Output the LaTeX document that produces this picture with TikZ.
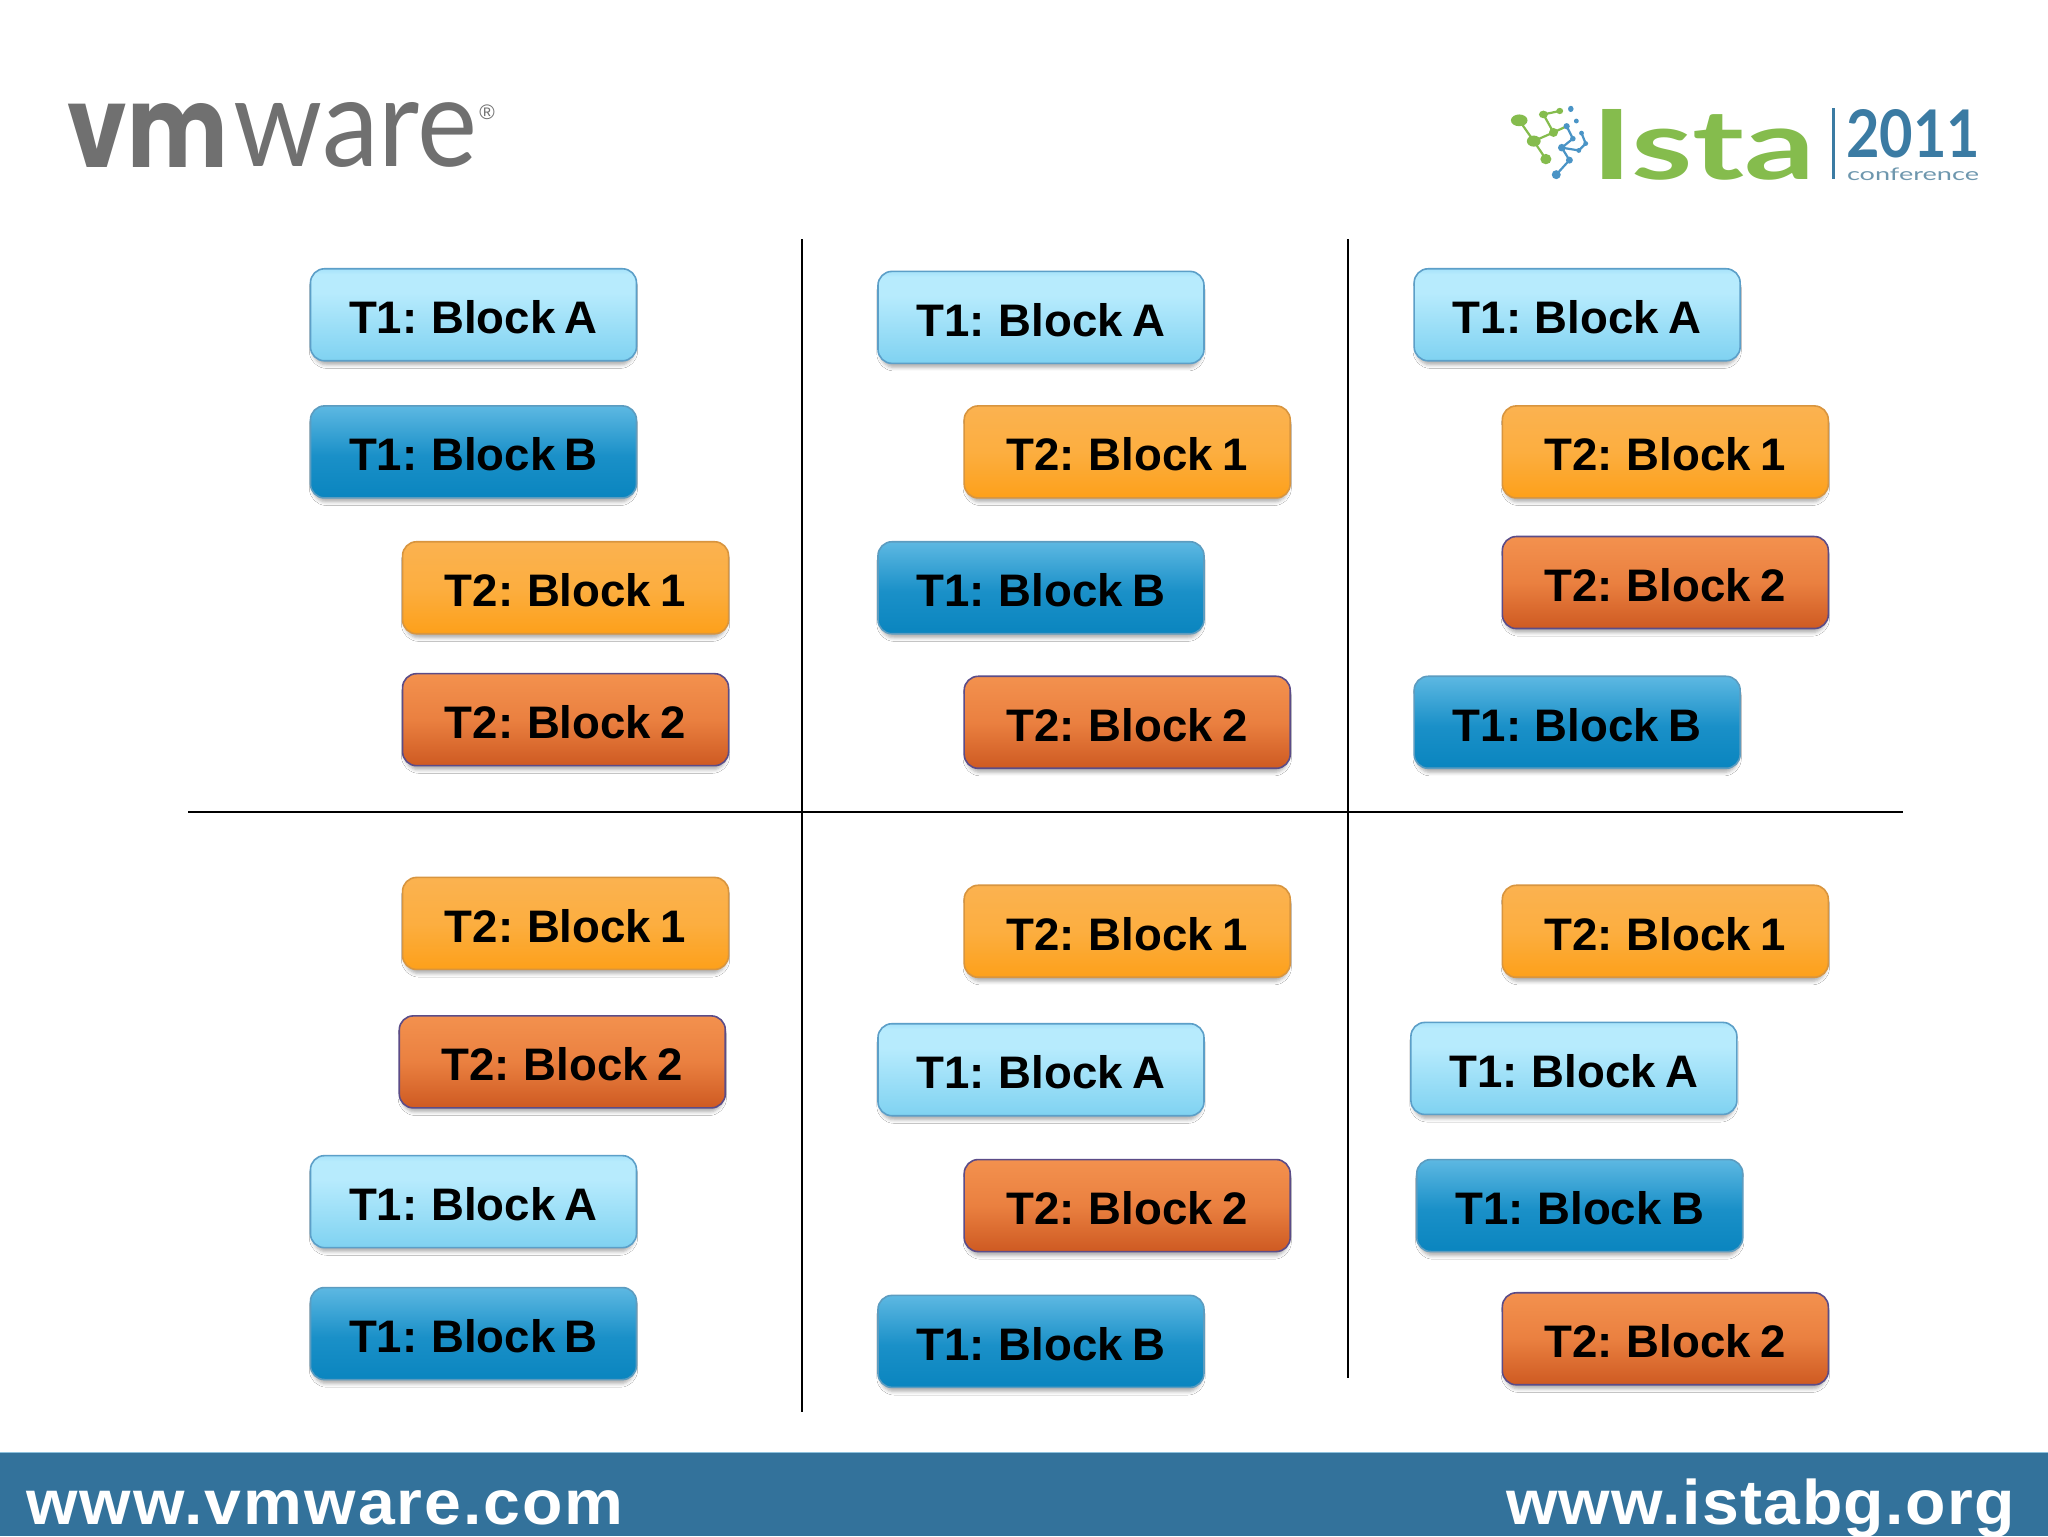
\documentclass[tikz,border=0pt]{standalone}
\usepackage{fontspec}
\setmainfont[WordSpace=0.75]{Liberation Sans}
\newfontfamily\popfont{Poppins}
\newfontfamily\latofont{Lato}
\newfontfamily\footfont[LetterSpace=3.2,FakeStretch=1.05]{Liberation Sans}
\newfontfamily\footfontR[LetterSpace=2.3,FakeStretch=1.05]{Liberation Sans}
\usetikzlibrary{shadows.blur}
\definecolor{aTop}{HTML}{A6E2FA}\definecolor{aHi}{HTML}{B7EBFD}\definecolor{aBot}{HTML}{7FD2F1}\definecolor{aLine}{HTML}{5C9FC8}
\definecolor{bTop}{HTML}{5DB8E2}\definecolor{bMid}{HTML}{1A90C8}\definecolor{bBot}{HTML}{0A85BF}\definecolor{bLine}{HTML}{5C9CC0}
\definecolor{oTop}{HTML}{FBB250}\definecolor{oMid}{HTML}{FCAE40}\definecolor{oBot}{HTML}{FDA01A}\definecolor{oLine}{HTML}{D8953F}
\definecolor{rTop}{HTML}{F3914E}\definecolor{rMid}{HTML}{EA8040}\definecolor{rBot}{HTML}{CE5A22}\definecolor{rLine}{HTML}{5B4C88}
\definecolor{footblue}{HTML}{33729B}\definecolor{footline}{HTML}{8CC0DC}
\definecolor{vmgray}{HTML}{707070}\definecolor{istagreen}{HTML}{85BC4D}\definecolor{istablue}{HTML}{3B7BA3}\definecolor{confgray}{HTML}{6E97AE}
\definecolor{molblue}{HTML}{4A94C6}
\pgfdeclareverticalshading{shA}{100bp}{color(0bp)=(aBot);color(25bp)=(aBot);color(62bp)=(aHi);color(72bp)=(aHi);color(75bp)=(aTop);color(100bp)=(aTop)}
\pgfdeclareverticalshading{shB}{100bp}{color(0bp)=(bBot);color(25bp)=(bBot);color(48bp)=(bMid);color(75bp)=(bTop);color(100bp)=(bTop)}
\pgfdeclareverticalshading{shO}{100bp}{color(0bp)=(oBot);color(25bp)=(oBot);color(50bp)=(oMid);color(75bp)=(oTop);color(100bp)=(oTop)}
\pgfdeclareverticalshading{shR}{100bp}{color(0bp)=(rBot);color(25bp)=(rBot);color(50bp)=(rMid);color(75bp)=(rTop);color(100bp)=(rTop)}
\tikzset{
  blockbase/.style={rounded corners=7pt,minimum width=163pt,minimum height=46pt,inner sep=0pt,line width=.8pt,
    font=\fontsize{22.8}{26}\selectfont\bfseries,text=black,text height=18.8pt,text depth=0pt,
    blur shadow={shadow xshift=0pt,shadow yshift=-2.4pt,shadow blur radius=1.8pt,shadow scale=.985,shadow opacity=32}},
  blockA/.style={blockbase,draw=aLine,shading=shA},
  blockB/.style={blockbase,draw=bLine,shading=shB},
  blockO/.style={blockbase,draw=oLine,shading=shO},
  blockR/.style={blockbase,draw=rLine,shading=shR},
  rule/.style={draw=black,line width=.85pt},
  foot/.style={text=white,inner sep=0pt,font=\footfont\fontsize{31.5}{36}\selectfont\bfseries},
  footr/.style={text=white,inner sep=0pt,font=\footfontR\fontsize{31.5}{36}\selectfont\bfseries},
  logotext/.style={inner sep=0pt,outer sep=0pt},
  molg/.style={fill=istagreen},
  molb/.style={fill=molblue},
}
\begin{document}
\begin{tikzpicture}[x=0.65306pt,y=-0.65306pt]
\useasboundingbox (0,0) rectangle (1568,1176);
\fill[white] (0,0) rectangle (1568,1176);
% footer
\fill[footblue] (0,1112) rectangle (1568,1176);
\draw[footline,line width=.7pt] (0,1112) -- (1568,1112);
\node[foot,anchor=base west] (footL) at (20,1167) {www.vmware.com};
\node[footr,anchor=base east] (footR) at (1543,1167) {www.istabg.org};
% vmware logo
\node[logotext,anchor=south west,text=vmgray] (vm) at (52,128) {\resizebox{80pt}{32pt}{\popfont\bfseries vm}};
\node[logotext,anchor=south west,text=vmgray] (ware) at (179,128) {\resizebox{122pt}{32pt}{\latofont ware}};
\node[logotext,anchor=center,text=vmgray,font=\fontsize{10.5}{11}\selectfont] (reg) at (373,86) {®};
% ISTA logo
\begin{scope}[shift={(1133.2,59)},scale=.265]
  \draw[istagreen,line width=1.1pt] (113,125)--(155,185)--(190,237) (155,185)--(212,160)--(183,108)--(230,98) (212,160)--(250,142);
  \draw[molblue,line width=1.1pt] (250,142)--(268,178)--(236,204)--(258,240)--(220,282) (293,162)--(305,192)--(285,212)--(236,204);
  \fill[molg] (113,125) ellipse [x radius=24,y radius=17];
  \fill[molg] (183,108) ellipse [x radius=13,y radius=11];
  \fill[molg] (230,98) ellipse [x radius=10,y radius=9];
  \fill[molg] (155,185) ellipse [x radius=20,y radius=16];
  \fill[molg] (212,160) ellipse [x radius=13,y radius=13];
  \fill[molg] (190,237) ellipse [x radius=16,y radius=15];
  \fill[molb] (262,92) ellipse [x radius=8,y radius=9];
  \fill[molb] (278,127) ellipse [x radius=7,y radius=7];
  \fill[molb] (250,142) ellipse [x radius=9,y radius=9];
  \fill[molb] (293,162) ellipse [x radius=7,y radius=7];
  \fill[molb] (268,178) ellipse [x radius=8,y radius=8];
  \fill[molb] (305,192) ellipse [x radius=7,y radius=7];
  \fill[molb] (236,204) ellipse [x radius=11,y radius=11];
  \fill[molb] (285,212) ellipse [x radius=7,y radius=7];
  \fill[molb] (258,240) ellipse [x radius=10,y radius=10];
  \fill[molb] (220,282) ellipse [x radius=13,y radius=13];
  \node[logotext,anchor=south west,text=istagreen] (ista) at (322,298) {\resizebox{112pt}{35pt}{\latofont\bfseries Ista}};
  \fill[istablue] (1017,90) rectangle (1026,295);
  \node[logotext,anchor=south west,text=istablue] (yr) at (1058,235) {\resizebox{67pt}{24pt}{\latofont\bfseries 2011}};
  \node[logotext,anchor=south west,text=confgray] (conf) at (1060,298) {\resizebox{66pt}{6.3pt}{\latofont conference}};
\end{scope}
% rules
\coordinate (v1t) at (614,183); \coordinate (v1b) at (614,1081);
\coordinate (v2t) at (1032,183); \coordinate (v2b) at (1032,1055);
\coordinate (hl) at (144,621.5); \coordinate (hr) at (1457,621.5);
\draw[rule] (v1t) -- (v1b);
\draw[rule] (v2t) -- (v2b);
\draw[rule] (hl) -- (hr);
% top left
\node[blockA] (a1) at (362.5,241) {T1: Block A};
\node[blockB] (a2) at (362.5,346) {T1: Block B};
\node[blockO] (a3) at (433,450) {T2: Block 1};
\node[blockR] (a4) at (433,551) {T2: Block 2};
% top middle
\node[blockA] (b1) at (797,243) {T1: Block A};
\node[blockO] (b2) at (863,346) {T2: Block 1};
\node[blockB] (b3) at (797,450) {T1: Block B};
\node[blockR] (b4) at (863,553) {T2: Block 2};
% top right
\node[blockA] (c1) at (1207.5,241) {T1: Block A};
\node[blockO] (c2) at (1275,346) {T2: Block 1};
\node[blockR] (c3) at (1275,446) {T2: Block 2};
\node[blockB] (c4) at (1207.5,553) {T1: Block B};
% bottom left
\node[blockO] (d1) at (433,707) {T2: Block 1};
\node[blockR] (d2) at (430.5,813) {T2: Block 2};
\node[blockA] (d3) at (362.5,920) {T1: Block A};
\node[blockB] (d4) at (362.5,1021) {T1: Block B};
% bottom middle
\node[blockO] (e1) at (863,713) {T2: Block 1};
\node[blockA] (e2) at (797,819) {T1: Block A};
\node[blockR] (e3) at (863,923) {T2: Block 2};
\node[blockB] (e4) at (797,1027) {T1: Block B};
% bottom right
\node[blockO] (f1) at (1275,713) {T2: Block 1};
\node[blockA] (f2) at (1205,818) {T1: Block A};
\node[blockB] (f3) at (1209.5,923) {T1: Block B};
\node[blockR] (f4) at (1275,1025) {T2: Block 2};
\end{tikzpicture}
\end{document}
